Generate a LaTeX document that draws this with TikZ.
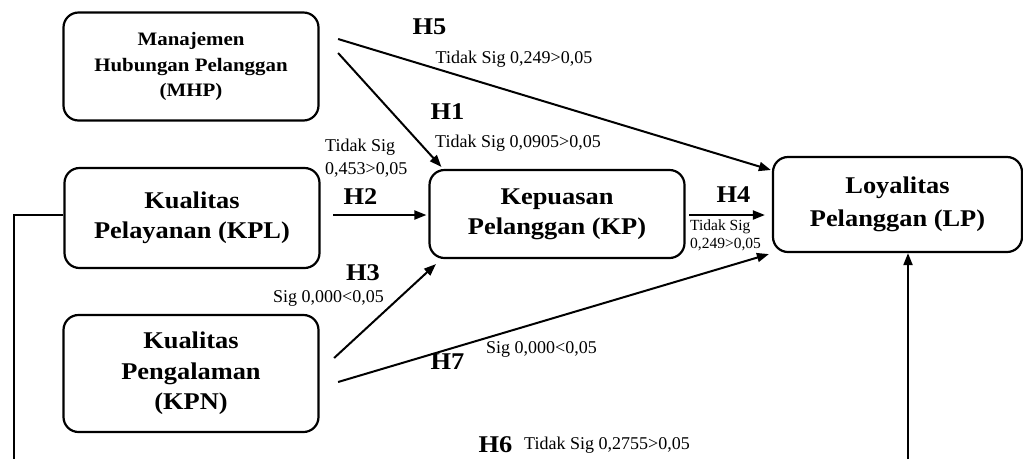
\documentclass[tikz,border=0pt]{standalone}
\usepackage{fontspec}
\setmainfont{Liberation Serif}
\newfontfamily\boxfont[FakeStretch=1.1]{Liberation Serif Bold}
\usetikzlibrary{arrows.meta,calc}
\tikzset{
  varbox/.style={draw, line width=2.2pt, rounded corners=15pt, align=center, inner sep=0pt},
  hlab/.style={font=\boxfont\fontsize{24}{26}\selectfont, inner sep=0pt},
  slab/.style={font=\fontsize{18}{23}\selectfont, inner sep=0pt},
  tlab/.style={font=\fontsize{15.5}{18}\selectfont, inner sep=0pt, align=left},
  conn/.style={line width=2pt, -{Triangle[length=12pt,width=9pt]}},
  plain/.style={line width=2pt}
}
\begin{document}
\begin{tikzpicture}[x=1pt,y=-1pt]
\useasboundingbox (0,0) rectangle (1023,459);
% boxes
\node[varbox, minimum width=255pt, minimum height=108pt, font=\boxfont\fontsize{19}{25.5}\selectfont]
  (mhp) at (191,66.5) {Manajemen\\Hubungan Pelanggan\\(MHP)};
\node[varbox, minimum width=255pt, minimum height=100pt, font=\boxfont\fontsize{24}{30}\selectfont]
  (kpl) at (192,218) {Kualitas\\Pelayanan (KPL)};
\node[varbox, minimum width=255pt, minimum height=117pt, font=\boxfont\fontsize{24}{30.5}\selectfont]
  (kpn) at (191,373.5) {Kualitas\\Pengalaman\\(KPN)};
\node[varbox, minimum width=255pt, minimum height=88pt, font=\boxfont\fontsize{24}{30}\selectfont]
  (kp) at (557,214) {Kepuasan\\Pelanggan (KP)};
\node[varbox, minimum width=249pt, minimum height=95pt, font=\boxfont\fontsize{24}{33}\selectfont]
  (lp) at (897.5,204.5) {Loyalitas\\Pelanggan (LP)};
% connectors
\draw[conn] ([xshift=18.5pt,yshift=27.5pt]mhp.east) -- ([xshift=-1pt,yshift=34.5pt]lp.west);
\draw[conn] ([xshift=18.5pt,yshift=13.5pt]mhp.east) -- ([xshift=13pt,yshift=2pt]kp.north west);
\draw[conn] ([xshift=12.5pt,yshift=3pt]kpl.east) -- ([xshift=-2pt,yshift=-1pt]kp.west);
\draw[conn] ([xshift=14.5pt,yshift=15.5pt]kpn.east) -- ([xshift=7.5pt,yshift=-5pt]kp.south west);
\draw[conn] ([xshift=18.5pt,yshift=-8.5pt]kpn.east) -- ([xshift=-3pt,yshift=-1pt]lp.south west);
\draw[conn] ([xshift=3.5pt,yshift=-1pt]kp.east) -- ([xshift=-7pt,yshift=-10.5pt]lp.west);
\coordinate (lb) at (14,459);
\coordinate (rb) at (908,459);
\draw[plain] ([yshift=3pt]kpl.west) -| (lb);
\draw[conn] (rb) -- (rb |- lp.south);
% labels
\node[hlab] (h5) at (429.5,27) {H5};
\node[slab] (t5) at (514,59) {Tidak Sig 0,249>0,05};
\node[hlab] (h1) at (447.5,112) {H1};
\node[slab] (t1) at (518,143) {Tidak Sig 0,0905>0,05};
\node[slab, anchor=west] (t2a) at (325,147) {Tidak Sig};
\node[slab, anchor=west] (t2b) at (325,170) {0,453>0,05};
\node[hlab] (h2) at (360.5,197) {H2};
\node[hlab] (h3) at (363,273) {H3};
\node[slab] (t3) at (328.5,298) {Sig 0,000<0,05};
\node[hlab] (h4) at (733.5,195) {H4};
\node[tlab, anchor=west] (t4a) at (690,227) {Tidak Sig};
\node[tlab, anchor=west] (t4b) at (690,245) {0,249>0,05};
\node[hlab] (h7) at (447.5,362) {H7};
\node[slab] (t7) at (541.5,349) {Sig 0,000<0,05};
\node[hlab] (h6) at (495.5,445) {H6};
\node[slab] (t6) at (607,445) {Tidak Sig 0,2755>0,05};
\end{tikzpicture}
\end{document}
